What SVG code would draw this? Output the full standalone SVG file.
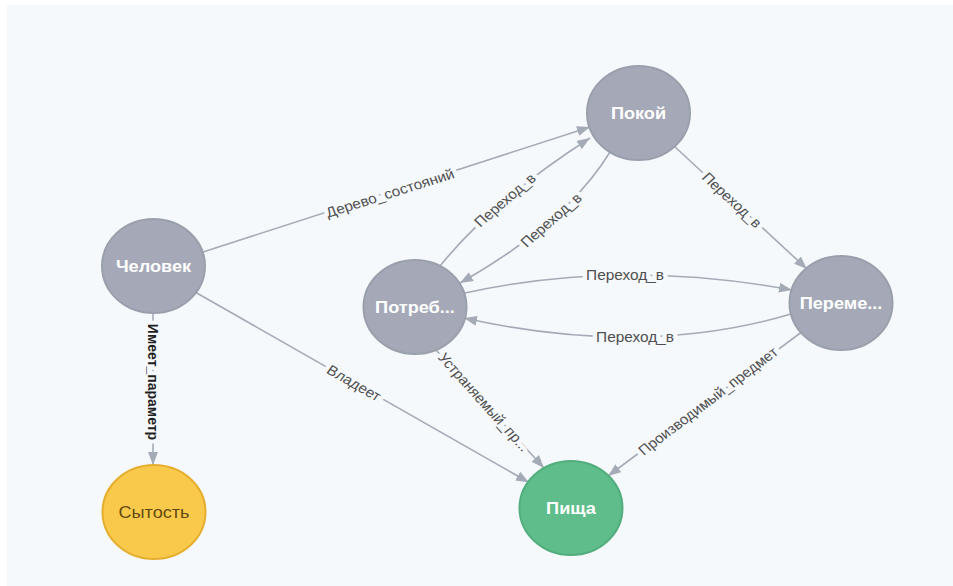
<svg xmlns="http://www.w3.org/2000/svg" width="953" height="586" viewBox="0 0 953 586">
<style>
.edge{fill:none;stroke:#A5ABB6;stroke-width:1.6;marker-end:url(#arr)}
.lbl{font-family:"Liberation Sans",Arial,sans-serif;font-size:14px;fill:#4f4f4f;text-anchor:middle;stroke:#F6F9FC;stroke-width:8;stroke-linejoin:round;paint-order:stroke}
.lbl.dark{fill:#1e1e1e;font-weight:bold}
.grey{fill:#A5A9B7;stroke:#9A9FAC;stroke-width:2}
.yellow{fill:#F9C94C;stroke:#E5AE2E;stroke-width:2}
.green{fill:#5FBD8B;stroke:#51AE7C;stroke-width:2}
.cap{font-family:"Liberation Sans",Arial,sans-serif;font-size:16.5px;font-weight:bold;fill:#fff;text-anchor:middle}
.cap.y{fill:#604A0E;font-weight:normal}
</style>
<defs>
<marker id="arr" markerUnits="userSpaceOnUse" markerWidth="13" markerHeight="10" refX="13" refY="5" orient="auto">
<path d="M0,0 L13,5 L0,10 z" fill="#A5ABB6"/>
</marker>
</defs>
<rect x="0" y="0" width="953" height="586" fill="#fff"/>
<rect x="7" y="5" width="946" height="581" fill="#F6F9FC"/>
<g id="edges">
<path class="edge" d="M203,252 L590,127"/>
<path class="edge" d="M440,266 Q493.5,200 590,138"/>
<path class="edge" d="M610,152 Q567,222.5 460,283"/>
<path class="edge" d="M465,293 Q621.5,258.5 792,290"/>
<path class="edge" d="M791,314 Q642.5,358 464,318"/>
<path class="edge" d="M674,146 L807,269"/>
<path class="edge" d="M153,313 L153,465"/>
<path class="edge" d="M195,292 L529,482.5"/>
<path class="edge" d="M436,350 L544,468"/>
<path class="edge" d="M803,331 L608,476"/>
<text class="lbl" dy="0.35em" transform="translate(390,193) scale(1.1,1) rotate(-19.1)">Дерево_состояний</text>
<text class="lbl" dy="0.35em" transform="translate(505,200) scale(1.1,1) rotate(-43.2)">Переход_в</text>
<text class="lbl" dy="0.35em" transform="translate(551,220) scale(1.1,1) rotate(-43.8)">Переход_в</text>
<text class="lbl" dy="0.35em" transform="translate(625,275) scale(1.1,1)">Переход_в</text>
<text class="lbl" dy="0.35em" transform="translate(635,337) scale(1.1,1)">Переход_в</text>
<text class="lbl" dy="0.35em" transform="translate(732,200) scale(1.1,1) rotate(45.5)">Переход_в</text>
<text class="lbl dark" dy="0.35em" transform="translate(153,382) scale(1.1,1) rotate(90)">Имеет_параметр</text>
<text class="lbl" dy="0.35em" transform="translate(354,383) scale(1.1,1) rotate(32.1)">Владеет</text>
<text class="lbl" dy="0.35em" transform="translate(484,402) scale(1.1,1) rotate(50.7)">Устраняемый_пр...</text>
<text class="lbl" dy="0.35em" transform="translate(708,401) scale(1.1,1) rotate(-39.7)">Производимый_предмет</text>
</g>
<g id="node-chelovek">
<ellipse class="grey" cx="153.5" cy="266" rx="51.5" ry="47"/>
<text class="cap" dy="0.35em" transform="translate(153.5,266) scale(1.1,1)">Человек</text>
</g>
<g id="node-pokoy">
<ellipse class="grey" cx="638.5" cy="113" rx="51.5" ry="47"/>
<text class="cap" dy="0.35em" transform="translate(638.5,113) scale(1.1,1)">Покой</text>
</g>
<g id="node-potreb">
<ellipse class="grey" cx="415" cy="307" rx="51.5" ry="47"/>
<text class="cap" dy="0.35em" transform="translate(415,307) scale(1.1,1)">Потреб...</text>
</g>
<g id="node-pereme">
<ellipse class="grey" cx="841" cy="303" rx="51.5" ry="47"/>
<text class="cap" dy="0.35em" transform="translate(841,303) scale(1.1,1)">Переме...</text>
</g>
<g id="node-sytost">
<ellipse class="yellow" cx="154" cy="512" rx="51.5" ry="47"/>
<text class="cap y" dy="0.35em" transform="translate(154,512) scale(1.1,1)">Сытость</text>
</g>
<g id="node-pishcha">
<ellipse class="green" cx="571" cy="508" rx="51.5" ry="47"/>
<text class="cap" dy="0.35em" transform="translate(571,508) scale(1.1,1)">Пища</text>
</g>
</svg>
